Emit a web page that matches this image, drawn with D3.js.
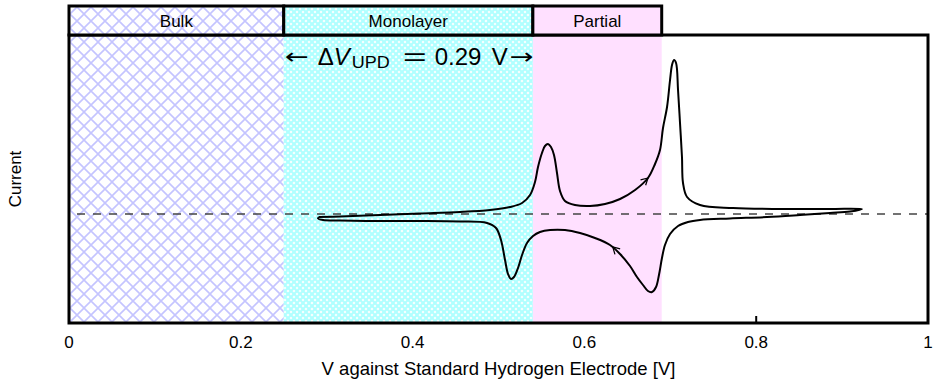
<!DOCTYPE html>
<html>
<head>
<meta charset="utf-8">
<script src="https://cdn.jsdelivr.net/npm/d3@7"></script>
<style>
  body { margin: 0; background: #fff; }
  text { font-family: 'Liberation Sans', Arial, sans-serif; fill: #000; }
</style>
</head>
<body>
<div id="chart"></div>
<script>
// Regions of the sweep (V against SHE)
const regionNames = ['Bulk', 'Monolayer', 'Partial'];
const regionStart = [0, 0.25, 0.54];
const regionEnd = [0.25, 0.54, 0.69];

const xTicks = [0, 0.2, 0.4, 0.6, 0.8, 1];
const xTickLabels = ['0', '0.2', '0.4', '0.6', '0.8', '1'];

// Anodic sweep (upper branch, going right)
const anodicV = [0.291, 0.3155, 0.362, 0.4086, 0.4552, 0.4901, 0.5134, 0.5274, 0.5367, 0.5425,
  0.546, 0.5506, 0.5541, 0.5576, 0.5611, 0.5646, 0.5681, 0.5716, 0.5774, 0.589,
  0.6065, 0.624, 0.6415, 0.659, 0.674, 0.6822, 0.688, 0.6915, 0.6962, 0.6997,
  0.702, 0.7043, 0.7067, 0.709, 0.7113, 0.7136, 0.7148, 0.7195, 0.7346, 0.773,
  0.8277, 0.8859, 0.9232];
const anodicI = [-0.03, -0.025, -0.01, 0.005, 0.02, 0.04, 0.07, 0.11, 0.19, 0.32,
  0.47, 0.61, 0.68, 0.70, 0.67, 0.59, 0.41, 0.23, 0.13, 0.09,
  0.08, 0.10, 0.15, 0.24, 0.36, 0.50, 0.64, 0.86, 1.07, 1.34,
  1.49, 1.54, 1.51, 1.24, 0.91, 0.57, 0.31, 0.17, 0.09, 0.06,
  0.05, 0.05, 0.05];

// Cathodic sweep (lower branch, going left)
const cathodicV = [0.9243, 0.9092, 0.8859, 0.851, 0.8126, 0.7695, 0.7346, 0.7206, 0.709, 0.6997,
  0.6938, 0.6903, 0.6868, 0.6834, 0.6787, 0.674, 0.6682, 0.6612, 0.6531, 0.6415,
  0.6298, 0.6123, 0.5949, 0.5774, 0.56, 0.5483, 0.5402, 0.5332, 0.5274, 0.5227,
  0.518, 0.5146, 0.5111, 0.5076, 0.5029, 0.4971, 0.4866, 0.4552, 0.4086, 0.362,
  0.3155, 0.2957, 0.2899, 0.291];
const cathodicI = [0.04, 0.025, 0.01, -0.01, -0.03, -0.045, -0.06, -0.08, -0.12, -0.20,
  -0.31, -0.44, -0.61, -0.73, -0.78, -0.77, -0.71, -0.63, -0.52, -0.40,
  -0.31, -0.24, -0.19, -0.16, -0.16, -0.18, -0.22, -0.29, -0.41, -0.54,
  -0.63, -0.65, -0.60, -0.46, -0.26, -0.14, -0.09, -0.075, -0.07, -0.07,
  -0.065, -0.06, -0.045, -0.03];

// Sweep direction arrows: tail and head (V, I)
const arrowFromV = [0.659, 0.6415];
const arrowFromI = [0.24, -0.40];
const arrowToV = [0.674, 0.633];
const arrowToI = [0.36, -0.33];

const width = 933, height = 379;
const margin = { left: 69, right: 5, top: 35, bottom: 56 };

const svg = d3.select('#chart').append('svg')
  .attr('width', width)
  .attr('height', height);

const x = d3.scaleLinear().domain([0, 1]).range([margin.left, width - margin.right]);
const y = d3.scaleLinear().domain([-1.09, 1.79]).range([height - margin.bottom, margin.top]);

const defs = svg.append('defs');

// Bulk: wide blue crosshatch
const pBulk = defs.append('pattern')
  .attr('id', 'bulk').attr('patternUnits', 'userSpaceOnUse')
  .attr('width', 14).attr('height', 14);
pBulk.append('rect').attr('width', 14).attr('height', 14).attr('fill', '#fff');
pBulk.append('path').attr('d', 'M0,0L14,14M14,0L0,14')
  .attr('stroke', '#c4c4ff').attr('stroke-width', 1.6);

// Monolayer: fine cyan crosshatch
const pMono = defs.append('pattern')
  .attr('id', 'mono').attr('patternUnits', 'userSpaceOnUse')
  .attr('width', 6).attr('height', 6);
pMono.append('rect').attr('width', 6).attr('height', 6).attr('fill', '#fff');
pMono.append('path').attr('d', 'M0,0L6,6M6,0L0,6')
  .attr('stroke', '#b0ffff').attr('stroke-width', 2.2);

const fills = ['url(#bulk)', 'url(#mono)', '#ffe0ff'];

// Arrowhead marker
defs.append('marker')
  .attr('id', 'arrow')
  .attr('viewBox', '-10 -6 12 12')
  .attr('refX', 0).attr('refY', 0)
  .attr('markerWidth', 10).attr('markerHeight', 10)
  .attr('markerUnits', 'userSpaceOnUse')
  .attr('orient', 'auto')
  .append('path')
  .attr('d', 'M-8,-4.5L0,0L-8,4.5')
  .attr('fill', 'none').attr('stroke', '#000').attr('stroke-width', 1.5);

// Bottom ticks (under fills, only 0.8 shows)
svg.append('g')
  .selectAll('line')
  .data(xTicks)
  .enter()
  .append('line')
  .attr('x1', (d) => x(d)).attr('x2', (d) => x(d))
  .attr('y1', y.range()[0]).attr('y2', y.range()[0] - 7)
  .attr('stroke', '#000').attr('stroke-width', 2);

// Region fills in the plot
svg.append('g')
  .selectAll('rect')
  .data(regionNames)
  .enter()
  .append('rect')
  .attr('x', (d, i) => x(regionStart[i]))
  .attr('width', (d, i) => x(regionEnd[i]) - x(regionStart[i]))
  .attr('y', margin.top)
  .attr('height', y.range()[0] - margin.top)
  .attr('fill', (d, i) => fills[i]);

// Zero line
svg.append('line')
  .attr('x1', x(0)).attr('x2', x(1))
  .attr('y1', y(0)).attr('y2', y(0))
  .attr('stroke', '#444').attr('stroke-width', 1.5)
  .attr('stroke-dasharray', '8,8')
  .attr('stroke-dashoffset', 8);

// Voltammogram
const line = d3.line()
  .x((d) => x(d[0]))
  .y((d) => y(d[1]))
  .curve(d3.curveCatmullRom.alpha(0.5));

const anodic = anodicV.map((v, i) => [v, anodicI[i]]);
const cathodic = cathodicV.map((v, i) => [v, cathodicI[i]]);

svg.append('path')
  .attr('d', line(anodic.concat(cathodic.slice(1))))
  .attr('fill', 'none')
  .attr('stroke', '#000')
  .attr('stroke-width', 2)
  .attr('stroke-linejoin', 'round');

svg.append('g')
  .selectAll('line')
  .data(arrowToV)
  .enter()
  .append('line')
  .attr('x1', (d, i) => x(arrowFromV[i]))
  .attr('y1', (d, i) => y(arrowFromI[i]))
  .attr('x2', (d) => x(d))
  .attr('y2', (d, i) => y(arrowToI[i]))
  .attr('stroke', 'none')
  .attr('marker-end', 'url(#arrow)');

// Plot frame
svg.append('rect')
  .attr('x', x(0)).attr('y', margin.top)
  .attr('width', x(1) - x(0))
  .attr('height', y.range()[0] - margin.top)
  .attr('fill', 'none')
  .attr('stroke', '#000')
  .attr('stroke-width', 3);

// Header boxes
const header = svg.append('g')
  .selectAll('g')
  .data(regionNames)
  .enter()
  .append('g');

header.append('rect')
  .attr('x', (d, i) => x(regionStart[i]))
  .attr('width', (d, i) => x(regionEnd[i]) - x(regionStart[i]))
  .attr('y', 6)
  .attr('height', margin.top - 6)
  .attr('fill', (d, i) => fills[i])
  .attr('stroke', '#000')
  .attr('stroke-width', 3);

header.append('text')
  .attr('x', (d, i) => (x(regionStart[i]) + x(regionEnd[i])) / 2)
  .attr('y', 27)
  .attr('text-anchor', 'middle')
  .style('font-size', '17px')
  .text((d) => d);

// Delta V annotation, laid out piece by piece across the monolayer band
const x0 = x(regionStart[1]);
const dvY = 65;
const dv = svg.append('g');
const piece = (dx, txt, size, opts = {}) => {
  const t = dv.append('text')
    .attr('x', x0 + dx)
    .attr('y', dvY + (opts.dy || 0))
    .style('font-size', size + 'px')
    .text(txt);
  if (opts.italic) t.style('font-style', 'italic');
  if (opts.family) t.style('font-family', opts.family);
  if (opts.len) t.attr('textLength', opts.len).attr('lengthAdjust', 'spacingAndGlyphs');
  return t;
};
piece(1, '\u2190', 22, { family: 'DejaVu Sans', len: 24, dy: -1 });
piece(34, '\u0394', 24);
piece(50, 'V', 24, { italic: true });
piece(68, 'UPD', 17, { dy: 3, len: 38 });
piece(119, '=', 24, { len: 24 });
piece(151, '0.29', 24);
piece(208, 'V', 24);
piece(226, '\u2192', 22, { family: 'DejaVu Sans', len: 24, dy: -1 });

// Tick labels
svg.append('g')
  .selectAll('text')
  .data(xTicks)
  .enter()
  .append('text')
  .attr('x', (d) => x(d))
  .attr('y', 348)
  .attr('text-anchor', 'middle')
  .style('font-size', '17px')
  .text((d, i) => xTickLabels[i]);

// Axis titles
svg.append('text')
  .attr('x', (x(0) + x(1)) / 2)
  .attr('y', 375)
  .attr('text-anchor', 'middle')
  .style('font-size', '18.5px')
  .text('V against Standard Hydrogen Electrode [V]');

svg.append('text')
  .attr('transform', `translate(21,${(margin.top + y.range()[0]) / 2}) rotate(-90)`)
  .attr('text-anchor', 'middle')
  .style('font-size', '17px')
  .text('Current');
</script>
</body>
</html>
